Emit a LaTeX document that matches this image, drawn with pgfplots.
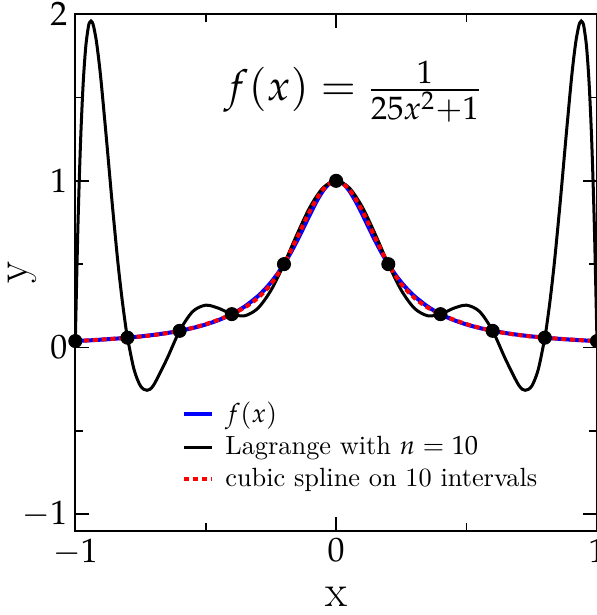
\documentclass[border=0pt]{standalone}
\usepackage{mathpazo}
\usepackage{pgfplots}
\pgfplotsset{compat=1.18}

\begin{document}
\begin{tikzpicture}[trim axis right]
\begin{axis}[
  width=208pt, height=206pt, scale only axis,
  xmin=-1, xmax=1, ymin=-1.1, ymax=2,
  xtick={-1,0,1}, ytick={-1,0,1,2},
  minor xtick={-0.5,0.5}, minor ytick={-0.5,0.5,1.5},
  tick pos=both, tick align=inside,
  major tick length=5.6pt, minor tick length=3.2pt,
  axis line style={line width=0.8pt},
  every tick/.style={black, line width=0.7pt},
  ticklabel style={font=\fontsize{13.5}{13.5}\selectfont},
  yticklabel style={inner xsep=3pt, inner ysep=1pt},
  xticklabel style={inner ysep=3pt},
  xlabel={x}, ylabel={y},
  every axis x label/.style={at={(rel axis cs:0.5,0)}, yshift=-26.5pt, anchor=center,
    inner sep=3.2pt, font=\fontsize{18}{18}\selectfont},
  every axis y label/.style={at={(rel axis cs:0,0.5)}, xshift=-21pt, anchor=center,
    rotate=90, font=\fontsize{18}{18}\selectfont},
  legend style={at={(rel axis cs:0.19,0.27)}, anchor=north west, draw=none, fill=none,
    font=\fontsize{10.5}{12.5}\selectfont, row sep=0pt,
    nodes={inner xsep=4.5pt}},
  legend cell align=left,
  legend image code/.code={\draw[#1] (0pt,0pt) -- (11pt,0pt);},
  clip=true,
]
% f(x) = 1/(25x^2+1)
\addplot[blue, line width=1.6pt, smooth] coordinates {
 (-1,0.038462) (-0.95,0.042440) (-0.9,0.047059) (-0.85,0.052459) (-0.8,0.058824)
 (-0.75,0.066390) (-0.7,0.075472) (-0.65,0.086486) (-0.6,0.1) (-0.55,0.116788)
 (-0.5,0.137931) (-0.45,0.164948) (-0.4,0.2) (-0.35,0.246154) (-0.3,0.307692)
 (-0.275,0.345946) (-0.25,0.390244) (-0.225,0.441379) (-0.2,0.5) (-0.175,0.566372)
 (-0.15,0.64) (-0.125,0.719101) (-0.1,0.8) (-0.075,0.876712) (-0.05,0.941176)
 (-0.025,0.984615) (0,1)
 (0.025,0.984615) (0.05,0.941176) (0.075,0.876712) (0.1,0.8) (0.125,0.719101)
 (0.15,0.64) (0.175,0.566372) (0.2,0.5) (0.225,0.441379) (0.25,0.390244)
 (0.275,0.345946) (0.3,0.307692) (0.35,0.246154) (0.4,0.2) (0.45,0.164948)
 (0.5,0.137931) (0.55,0.116788) (0.6,0.1) (0.65,0.086486) (0.7,0.075472)
 (0.75,0.066390) (0.8,0.058824) (0.85,0.052459) (0.9,0.047059) (0.95,0.042440)
 (1,0.038462)
};
\addlegendentry{$f(x)$}
% Lagrange interpolant, n = 10
\addplot[black, line width=1.2pt, smooth] coordinates {
 (-1,0.038462) (-0.99,0.726072) (-0.98,1.230304) (-0.97,1.580980) (-0.96,1.804368)
 (-0.95,1.923631) (-0.945,1.950626) (-0.94,1.958953) (-0.935,1.950733) (-0.93,1.927949)
 (-0.92,1.845849) (-0.91,1.725722) (-0.9,1.578722) (-0.88,1.240201) (-0.86,0.888081)
 (-0.84,0.560444) (-0.83,0.413461) (-0.82,0.280218) (-0.81,0.161813) (-0.8,0.058824)
 (-0.775,-0.131186) (-0.75,-0.231462) (-0.725,-0.256880) (-0.7,-0.226196) (-0.65,-0.072604)
 (-0.6,0.1) (-0.55,0.215591) (-0.5,0.253756) (-0.45,0.234969) (-0.4,0.2)
 (-0.35,0.190581) (-0.3,0.235347) (-0.25,0.342642) (-0.2,0.5) (-0.15,0.678989)
 (-0.1,0.843407) (-0.05,0.958627) (0,1)
 (0.05,0.958627) (0.1,0.843407) (0.15,0.678989) (0.2,0.5) (0.25,0.342642)
 (0.3,0.235347) (0.35,0.190581) (0.4,0.2) (0.45,0.234969) (0.5,0.253756)
 (0.55,0.215591) (0.6,0.1) (0.65,-0.072604) (0.7,-0.226196) (0.725,-0.256880)
 (0.75,-0.231462) (0.775,-0.131186) (0.8,0.058824) (0.81,0.161813) (0.82,0.280218)
 (0.83,0.413461) (0.84,0.560444) (0.86,0.888081) (0.88,1.240201) (0.9,1.578722)
 (0.91,1.725722) (0.92,1.845849) (0.93,1.927949) (0.935,1.950733) (0.94,1.958953)
 (0.945,1.950626) (0.95,1.923631) (0.96,1.804368) (0.97,1.580980) (0.98,1.230304)
 (0.99,0.726072) (1,0.038462)
};
\addlegendentry{Lagrange with $n=10$}
% interpolation nodes
\addplot[only marks, mark=*, mark size=2.6pt, black, forget plot] coordinates {
 (-1,0.038462) (-0.8,0.058824) (-0.6,0.1) (-0.4,0.2) (-0.2,0.5) (0,1)
 (0.2,0.5) (0.4,0.2) (0.6,0.1) (0.8,0.058824) (1,0.038462)
};
% cubic spline on 10 intervals
\addplot[red, line width=1.6pt, dash pattern=on 2pt off 1.5pt, smooth] coordinates {
 (-1,0.038462) (-0.95,0.042912) (-0.9,0.047618) (-0.85,0.052837) (-0.8,0.058824)
 (-0.75,0.065905) (-0.7,0.074682) (-0.65,0.085823) (-0.6,0.1) (-0.55,0.117874)
 (-0.5,0.140081) (-0.45,0.167247) (-0.4,0.2) (-0.35,0.240538) (-0.3,0.297347)
 (-0.25,0.380482) (-0.2,0.5) (-0.15,0.657472) (-0.1,0.820531) (-0.05,0.948324) (0,1)
 (0.05,0.948324) (0.1,0.820531) (0.15,0.657472) (0.2,0.5) (0.25,0.380482)
 (0.3,0.297347) (0.35,0.240538) (0.4,0.2) (0.45,0.167247) (0.5,0.140081)
 (0.55,0.117874) (0.6,0.1) (0.65,0.085823) (0.7,0.074682) (0.75,0.065905)
 (0.8,0.058824) (0.85,0.052837) (0.9,0.047618) (0.95,0.042912) (1,0.038462)
};
\addlegendentry{cubic spline on 10 intervals}
\node[font=\fontsize{17}{17}\selectfont] at (axis cs:0.065,1.535) {$f(x)=\frac{1}{25x^2+1}$};
\end{axis}
\end{tikzpicture}
\end{document}
